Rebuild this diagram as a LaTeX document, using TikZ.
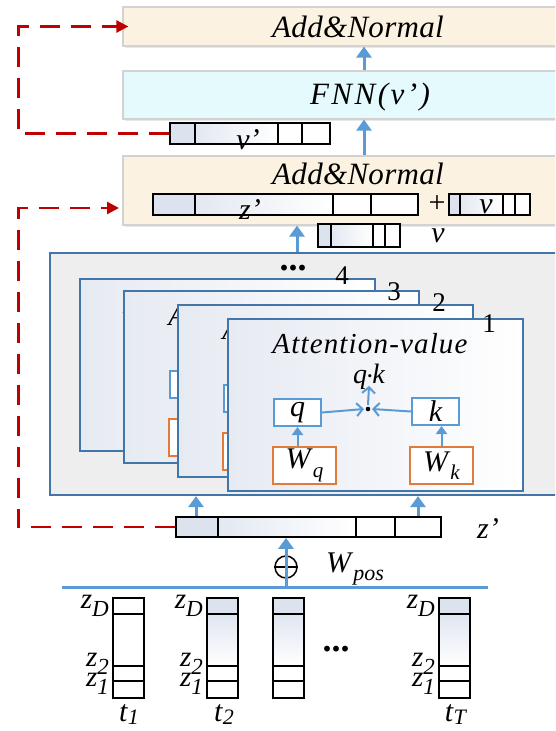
\documentclass[tikz,border=0pt]{standalone}
\usepackage{fontspec}
\setmainfont{Liberation Serif}
\newfontfamily\trk[LetterSpace=1]{Liberation Serif}
\newfontfamily\trka[LetterSpace=4]{Liberation Serif}
\newfontfamily\trkw[LetterSpace=8]{Liberation Serif}
\usetikzlibrary{arrows.meta,shadows,fit,calc}
\definecolor{cream}{HTML}{FBF2E1}
\definecolor{fnnc}{HTML}{E4FAFC}
\definecolor{grayfill}{HTML}{EEEEEE}
\definecolor{frameb}{HTML}{4275A8}
\definecolor{arrb}{HTML}{5B9BD5}
\definecolor{orng}{HTML}{E07B3C}
\definecolor{redd}{HTML}{C00000}
\definecolor{shd}{HTML}{DCE3EE}
\definecolor{frshd}{HTML}{E6EAF2}
\newcommand\fs[1]{\fontsize{#1}{#1}\selectfont}
\newcommand\sbx[3]{\textit{#1}\raisebox{-0.28em}{\fs{#3}\textit{#2}}}
\newcommand\sbt[3]{\textit{#1}\raisebox{-0.1em}{\fs{#3}\textit{#2}}}
\tikzset{
  anbox/.style={draw=gray!35, line width=1.2pt, fill=cream, inner sep=0,
    drop shadow={opacity=0.18, shadow xshift=1.5pt, shadow yshift=-2pt}},
  fnnbox/.style={draw=gray!35, line width=1.2pt, fill=fnnc, inner sep=0,
    drop shadow={opacity=0.18, shadow xshift=1.5pt, shadow yshift=-2pt}},
  barbox/.style={draw=black, line width=1.7pt, inner sep=0},
  barline/.style={draw=black, line width=1.7pt},
  lab/.style={font=\fs{30}\itshape, inner sep=0},
  ttl/.style={font=\trk\itshape\fs{31}, inner sep=0},
  num/.style={font=\fs{27}, inner sep=0},
  graybox/.style={draw=frameb, line width=2.2pt, fill=grayfill, inner sep=0},
  framebox/.style={draw=frameb, line width=2.2pt, left color=frshd, right color=white,
    inner sep=0, anchor=north west, minimum width=295pt, minimum height=172pt},
  qkbox/.style={draw=arrb, line width=2pt, fill=white, inner sep=0, anchor=north west,
    minimum width=47pt, minimum height=27pt, font=\fs{30}\itshape},
  wbox/.style={draw=orng, line width=2pt, fill=white, inner sep=0, anchor=north west,
    minimum width=63pt, minimum height=37pt, font=\fs{30}},
  barr/.style={draw=arrb, line width=3pt, -{Triangle[length=11pt,width=15pt]}},
  sarr/.style={draw=arrb, line width=2pt, -{Triangle[length=8pt,width=11pt]}},
  barb/.style={draw=arrb, line width=2pt, -{Straight Barb[length=6pt,width=13pt,line width=2pt]}},
  reddash/.style={draw=redd, line width=2.5pt, dash pattern=on 20pt off 11pt,
    -{Triangle[length=12pt,width=12pt]}},
  colbox/.style={draw=black, line width=1.7pt, inner sep=0, anchor=north west,
    minimum width=31pt, minimum height=100pt},
}
\newcommand\cellbar[8]{%
  \fill[white] (#2,#3) rectangle (#4,#5);
  \fill[shd] (#2,#3) rectangle (#6,#5);
  \shade[left color=shd!80, right color=white] (#6,#3) rectangle (#7,#5);
  \node[barbox, fit={(#2,#3) (#4,#5)}] (#1) {};
  \draw[barline] (#6,#3) -- (#6,#5) (#7,#3) -- (#7,#5) (#8,#3) -- (#8,#5);
}
\newcommand\attframe[3]{%
  \begin{scope}[shift={(#2,#3)}]
    \node[framebox] (#1) at (0,0) {};
    \node[ttl, font=\trka\itshape\fs{29}] (#1t) at (143,26) {Attention-value};
    \node[qkbox] (#1q) at (46,80) {q};
    \node[qkbox] (#1k) at (184,79) {k};
    \node[wbox] (#1wq) at (45,128) {\sbx{W}{q}{21}};
    \node[wbox] (#1wk) at (182,128) {\sbx{W}{k}{21}};
    \coordinate (#1d) at (141,91);
    \fill (#1d) circle (2.3pt);
    \node[lab, font=\fs{28}\itshape] (#1qk) at (142,59) {q\kern0.3pt\raisebox{0.25ex}{\fs{13}\upshape\textbullet}\kern0.3pt k};
    \draw[sarr] (#1wq.north -| #1q.south) -- (#1q.south);
    \draw[sarr] (#1wk.north) -- (#1wk.north |- #1k.south);
    \draw[barb] (#1q.east) -- ([xshift=-4pt]#1d);
    \draw[barb] (#1k.west) -- ([xshift=4pt]#1d);
    \draw[barb] ([yshift=4pt]#1d) -- ([yshift=4pt]#1qk.south);
  \end{scope}
}
\begin{document}
\begin{tikzpicture}[x=1pt,y=-1pt]
\useasboundingbox (0,0) rectangle (555,731);
\clip (0,0) rectangle (555,731);
\fill[white] (0,0) rectangle (555,731);
\coordinate (ax) at (364,0);
\coordinate (rx) at (18.5,0);

% top stack
\node[anbox, fit={(123,7) (580,46)}] (an1) {};
\node[ttl] (an1t) at (358,27) {Add\&Normal};
\node[fnnbox, fit={(123,71) (580,119)}] (fnn) {};
\node[ttl, font=\trkw\itshape\fs{31}] (fnnt) at (370,97) {FNN(v’)};
\node[anbox, fit={(123,156) (580,225)}] (an2) {};
\node[ttl] (an2t) at (358,174) {Add\&Normal};

\draw[barr] (an2.north -| ax) -- (fnn.south -| ax);
\draw[barr] (fnn.north -| ax) -- (an1.south -| ax);

% bars
\cellbar{vp}{170}{123}{330}{144}{195}{278}{302}
\node[lab] (vpl) at (248,140) {v’};
\cellbar{zp}{153}{194}{418}{215}{195}{333}{371}
\node[lab] (zpl) at (250,210) {z’};
\node[font=\fs{30}, inner sep=0] (plus) at (437,204) {+};
\cellbar{vb}{449}{194}{530}{215}{460}{503}{515}
\node[lab] (vbl) at (486,207) {v};
\cellbar{vs}{318}{224}{400}{247}{331}{373}{385}
\node[lab] (vsl) at (438,236) {v};

% multi-head box
\node[graybox, fit={(50,253) (580,495)}] (mh) {};
\node[font=\fs{36}\bfseries, inner sep=0, anchor=base] (dots1) at (293,270) {...};
\coordinate (mx) at (297,0);
\draw[barr] (mh.north -| mx) -- (an2.south -| mx);

\attframe{f4}{79}{278}
\node[num] (n4) at (342,276) {4};
\attframe{f3}{123}{290}
\node[num] (n3) at (394,292) {3};
\attframe{f2}{177}{304}
\node[num] (n2) at (439,303) {2};
\attframe{f1}{227}{318}
\node[num] (n1) at (489,324) {1};

% lower z' bar
\cellbar{zb}{176}{517}{441}{537}{218}{356}{395}
\node[lab] (zbl) at (488,529) {z’};
\coordinate (lx) at (196,0);
\coordinate (rx2) at (418,0);
\draw[barr] (zb.north -| lx) -- (mh.south -| lx);
\draw[barr] (zb.north -| rx2) -- (mh.south -| rx2);

% positional encoding
\node[draw=black, line width=1.5pt, circle, minimum size=22pt, inner sep=0] (op) at (286,567) {};
\draw[black, line width=1.5pt] (op.west) -- (op.east);
\coordinate (hl) at (286,587);
\draw[draw=arrb, line width=3pt] (62,587) -- (488,587);
\draw[barr] (hl) -- (zb.south -| hl);
\node[anchor=west, inner sep=0, font=\fs{30}] (wpos) at (326,569) {\sbx{W}{pos}{22}};

% columns
\foreach \n/\x/\s in {c1/112/0,c2/206/1,c3/272/1,c4/438/1}{
  \fill[white] (\x,597) rectangle (\x+31,697);
  \ifnum\s=1
    \fill[shd] (\x,597) rectangle (\x+31,614);
    \shade[top color=shd!90, bottom color=white] (\x,614) rectangle (\x+31,666);
  \fi
  \node[colbox] (\n) at (\x,597) {};
  \draw[barline] (\x,614) -- (\x+31,614) (\x,666) -- (\x+31,666) (\x,681) -- (\x+31,681);
}
\foreach \n/\x in {c1/109,c2/203,c4/435}{
  \node[anchor=east, inner sep=0, font=\fs{29}] (\n zd) at (\x,606) {\sbx{z}{D}{23}};
  \node[anchor=east, inner sep=0, font=\fs{29}] (\n z2) at (\x,664) {\sbx{z}{2}{23}};
  \node[anchor=east, inner sep=0, font=\fs{29}] (\n z1) at (\x,684) {\sbx{z}{1}{23}};
}
\node[font=\fs{36}\bfseries, inner sep=0, anchor=base] (dots2) at (336,651) {...};
\node[inner sep=0, anchor=base, font=\fs{30}] (t1) at (129,721) {\sbt{t}{1}{22}};
\node[inner sep=0, anchor=base, font=\fs{30}] (t2) at (224,721) {\sbt{t}{2}{22}};
\node[inner sep=0, anchor=base, font=\fs{30}] (tT) at (456,721) {\sbt{t}{T}{22}};

% residual connections
\draw[reddash] (vp.west) -- (vp.west -| rx) |- ([xshift=6pt]an1.west);
\coordinate (an2in) at (119,208);
\draw[reddash] (zb.west) -- (zb.west -| rx) |- (an2in);
\end{tikzpicture}
\end{document}
